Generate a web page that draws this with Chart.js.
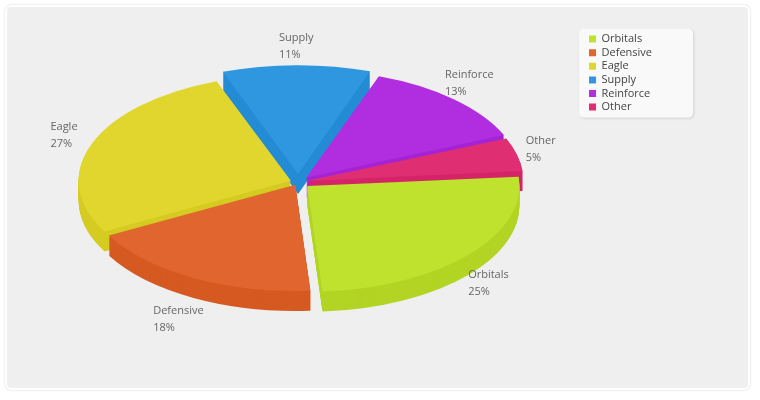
<!DOCTYPE html>
<html>
<head>
<meta charset="utf-8">
<script src="https://cdn.jsdelivr.net/npm/chart.js@4/dist/chart.umd.min.js"></script>
<style>
  html, body { margin: 0; padding: 0; background: #fff; }
  #wrap { position: relative; width: 760px; height: 400px; }
  #panel { position: absolute; left: 5px; top: 5px; width: 741px; height: 381px; background: #efefef; border: 2px solid #fff; border-radius: 6px; box-shadow: 0 0 2px #c8c8c8; }
  canvas { position: absolute; left: 0; top: 0; }
</style>
</head>
<body>
<div id="wrap"><div id="panel"></div><canvas id="pie3d" width="760" height="400"></canvas></div>
<script>
// data
const labels = ['Orbitals', 'Defensive', 'Eagle', 'Supply', 'Reinforce', 'Other'];
const values = [25, 18, 27, 11, 13, 5];
const topColors = ['#bfe22e', '#e0652e', '#e0d62e', '#2f96e0', '#b02ee0', '#e02e72'];
const sideColors = ['#b3d424', '#d55a22', '#d5cb22', '#248bd5', '#a424d4', '#d52468'];
const explode = [48, 24, 32, 64, 48, 32];

const squash = 0.5;   // vertical squeeze of the tilted pie
const depth = 20;     // wall height, px

const midAngle = a => (a.startAngle + a.endAngle) / 2;

function roundRect(ctx, x, y, w, h, r) {
    ctx.beginPath();
    ctx.moveTo(x + r, y);
    ctx.arcTo(x + w, y, x + w, y + h, r);
    ctx.arcTo(x + w, y + h, x, y + h, r);
    ctx.arcTo(x, y + h, x, y, r);
    ctx.arcTo(x, y, x + w, y, r);
    ctx.closePath();
}

const tilt = {
    id: 'tilt',
    beforeDraw(chart) {
        // legend box
        const boxes = chart.legend.legendHitBoxes;
        if (!boxes || !boxes.length) return;
        const ctx = chart.ctx;
        const left = Math.min(...boxes.map(b => b.left)) - 10;
        const right = Math.max(...boxes.map(b => b.left + b.width)) + 41;
        const top = boxes[0].top - 5;
        const bottom = boxes[boxes.length - 1].top + boxes[boxes.length - 1].height + 5;
        ctx.save();
        ctx.shadowColor = 'rgba(0,0,0,0.12)';
        ctx.shadowBlur = 3;
        ctx.shadowOffsetX = 1;
        ctx.shadowOffsetY = 1;
        ctx.fillStyle = '#f9f9f9';
        roundRect(ctx, left, top, right - left, bottom - top, 5);
        ctx.fill();
        ctx.restore();
    },
    beforeDatasetsDraw(chart) {
        const ctx = chart.ctx;
        const arcs = chart.getDatasetMeta(0).data;
        const cx = arcs[0].x, cy = arcs[0].y;
        ctx.save();
        ctx.translate(cx, cy);
        ctx.scale(1, squash);
        ctx.translate(-cx, -cy);
        // side walls, back slices first
        const order = arcs.map((a, i) => i)
            .sort((a, b) => Math.sin(midAngle(arcs[a])) - Math.sin(midAngle(arcs[b])));
        order.forEach(i => {
            const arc = arcs[i];
            const opts = arc.options;
            arc.options = Object.assign({}, opts, { backgroundColor: sideColors[i], borderColor: sideColors[i] });
            for (let d = depth; d >= 1; d--) {
                ctx.save();
                ctx.translate(0, d / squash);
                arc.draw(ctx);
                ctx.restore();
            }
            arc.options = opts;
        });
    },
    afterDatasetsDraw(chart) {
        const ctx = chart.ctx;
        ctx.restore();
        const arcs = chart.getDatasetMeta(0).data;
        const total = values.reduce((s, v) => s + v, 0);
        ctx.save();
        ctx.font = '11px "Open Sans"';
        ctx.fillStyle = '#666';
        ctx.textAlign = 'left';
        ctx.textBaseline = 'middle';
        arcs.forEach((arc, i) => {
            const m = midAngle(arc);
            const c = Math.cos(m), s = Math.sin(m);
            const x = arc.x + c * (arc.outerRadius + 38);
            const y = arc.y + s * (arc.outerRadius * squash + 30) + (s > 0 ? s * depth : 0);
            const w = ctx.measureText(labels[i]).width;
            ctx.fillText(labels[i], x - w / 2, y - 8);
            ctx.fillText(Math.round(values[i] / total * 100) + '%', x - w / 2, y + 9);
        });
        ctx.restore();
    }
};

new Chart(document.getElementById('pie3d'), {
    type: 'pie',
    data: {
        labels: labels,
        datasets: [{
            data: values,
            backgroundColor: topColors,
            borderWidth: 0,
            offset: explode,
            hoverOffset: 0,
            clip: false
        }]
    },
    options: {
        responsive: false,
        animation: false,
        events: [],
        rotation: 85,
        radius: 212,
        layout: { padding: { left: 10, right: 98, top: 31, bottom: 67 } },
        plugins: {
            legend: {
                position: 'right',
                align: 'start',
                labels: {
                    boxWidth: 7,
                    boxHeight: 7,
                    padding: 2.6,
                    color: '#444',
                    font: { family: 'Open Sans', size: 11 }
                }
            },
            tooltip: { enabled: false }
        }
    },
    plugins: [tilt]
});
</script>
</body>
</html>
